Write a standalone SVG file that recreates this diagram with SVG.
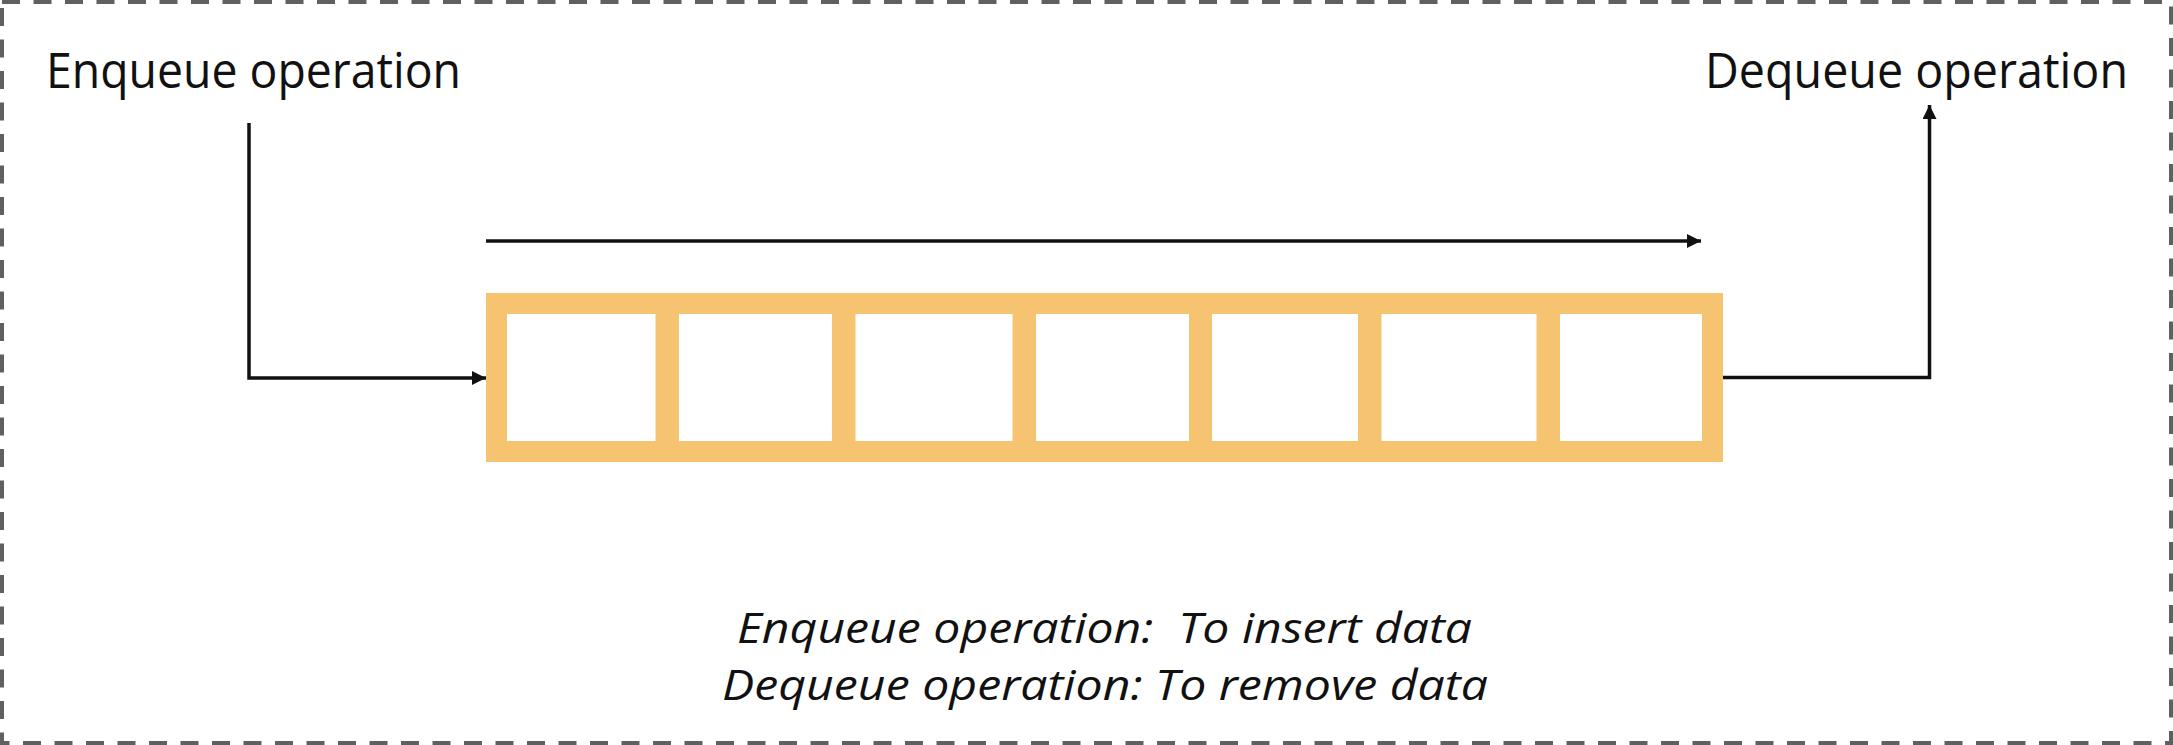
<svg xmlns="http://www.w3.org/2000/svg" width="2173" height="745" viewBox="0 0 2173 745">
  <style>
    .lbl { font-family: "Open Sans", "Noto Sans", "Liberation Sans", sans-serif; fill: #111; }
    .top { font-size: 49px; }
    .note { font-size: 42px; font-style: italic; white-space: pre; }
    .conn { fill: none; stroke: #111; stroke-width: 3.5; }
    .cell { fill: #fff; }
  </style>
  <defs>
    <marker id="arr" markerUnits="userSpaceOnUse" markerWidth="14" markerHeight="14" viewBox="0 0 14 14" refX="14" refY="7" orient="auto">
      <path d="M0 0 L14 7 L0 14 Z" fill="#111"/>
    </marker>
  </defs>
  <rect x="2" y="2" width="2169" height="741" fill="#fff" stroke="#606060" stroke-width="4" stroke-dasharray="18 13.5"/>

  <g id="enqueue-label">
    <text class="lbl top" x="46" y="88" textLength="415" lengthAdjust="spacingAndGlyphs">Enqueue operation</text>
  </g>
  <g id="dequeue-label">
    <text class="lbl top" x="1705" y="88" textLength="423" lengthAdjust="spacingAndGlyphs">Dequeue operation</text>
  </g>

  <g id="queue">
    <rect x="486" y="293" width="1237" height="169" fill="#F6C471"/>
    <rect class="cell" x="507" y="314" width="148.5" height="127"/>
    <rect class="cell" x="679" y="314" width="153" height="127"/>
    <rect class="cell" x="855.5" y="314" width="157" height="127"/>
    <rect class="cell" x="1036" y="314" width="153" height="127"/>
    <rect class="cell" x="1212" y="314" width="146" height="127"/>
    <rect class="cell" x="1381.5" y="314" width="155" height="127"/>
    <rect class="cell" x="1560" y="314" width="142" height="127"/>
  </g>

  <g id="connectors">
    <path class="conn" d="M249 123 V378 H486" marker-end="url(#arr)"/>
    <path class="conn" d="M486 241 H1701" marker-end="url(#arr)"/>
    <path class="conn" d="M1723 377.5 H1929.5 V105" marker-end="url(#arr)"/>
  </g>

  <g id="notes">
    <text class="lbl note" x="737" y="643" textLength="735" lengthAdjust="spacingAndGlyphs">Enqueue operation:  To insert data</text>
    <text class="lbl note" x="722" y="700" textLength="766" lengthAdjust="spacingAndGlyphs">Dequeue operation: To remove data</text>
  </g>
</svg>
